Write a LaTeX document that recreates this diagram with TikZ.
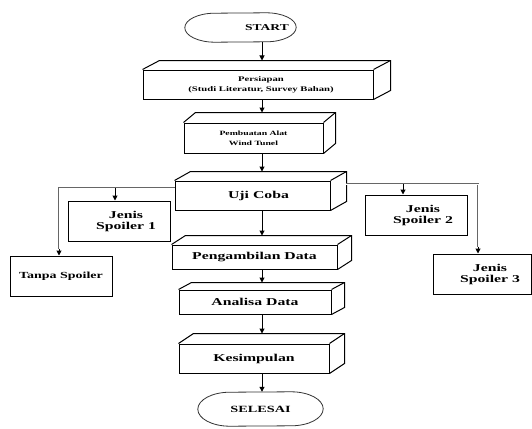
\documentclass[tikz,border=0pt]{standalone}
\usepackage{fontspec}
\newfontfamily\tf[FakeStretch=1.5]{Liberation Serif}
\usetikzlibrary{arrows.meta,calc}
\newcommand\myfs[2]{\fontsize{#1}{#2}\selectfont}
\newcommand\cubefaces[3]{%
  \draw[face] (#1.north west) -- ++(#2pt,#3pt) -- ($(#1.north east)+(#2pt,#3pt)$) -- ($(#1.south east)+(#2pt,#3pt)$) -- (#1.south east);
  \draw[face] (#1.north east) -- ++(#2pt,#3pt);}
\newcommand\termshape[3]{%
  \draw[term] ($(#1.north east)+(-#2pt,0pt)$) arc[start angle=90,end angle=-90,x radius=#2pt,y radius=#3pt]
    -- ($(#1.south west)+(#2pt,0pt)$) arc[start angle=270,end angle=90,x radius=#2pt,y radius=#3pt] -- cycle;}
\begin{document}
\begin{tikzpicture}[x=1pt,y=-1pt,
  box/.style={draw=black, line width=1pt, fill=white, inner sep=0pt, text=black, align=center},
  face/.style={draw=black, line width=1pt, line join=miter},
  term/.style={draw=black!80, line width=0.8pt},
  arr/.style={draw=black, line width=1pt, -{Triangle[length=5pt,width=5pt]}},
  branch/.style={draw=black!60, line width=0.7pt, double=white, double distance=0.8pt},
  mainf/.style={font=\tf\bfseries\myfs{10.5}{11}},
]
\fill[white] (0,0) rectangle (532,428);
\useasboundingbox (0,0) rectangle (532,428);
\coordinate (ax) at (262,0);

% START
\node[minimum width=111pt, minimum height=29pt, inner sep=0pt] (start) at (240.5,27.5) {};
\termshape{start}{30}{14.5}
\node[font=\tf\bfseries\myfs{9}{10}, text=black] (startlbl) at (267,27.5) {START};

% 3D boxes
\node[box, minimum width=230pt, minimum height=29pt, font=\tf\bfseries\myfs{7.1}{10}] (pers) at (258,84.5) {\hspace*{6pt}Persiapan\\\hspace*{6pt}(Studi Literatur, Survey Bahan)};
\cubefaces{pers}{17}{9}
\node[box, minimum width=139pt, minimum height=30pt, font=\tf\bfseries\myfs{6.5}{10}] (pemb) at (253.5,138) {Pembuatan Alat\\Wind Tunel};
\cubefaces{pemb}{12}{10}
\node[box, mainf, minimum width=155pt, minimum height=29pt] (uji) at (252.5,195.5) {\hspace*{12pt}Uji Coba};
\cubefaces{uji}{16}{9}
\node[box, mainf, minimum width=165pt, minimum height=24pt] (peng) at (254.5,257) {Pengambilan Data};
\cubefaces{peng}{14}{9}
\node[box, mainf, minimum width=152pt, minimum height=24pt] (anal) at (255,302) {Analisa Data};
\cubefaces{anal}{13}{7}
\node[box, mainf, minimum width=150pt, minimum height=29pt] (kes) at (254,358.5) {Kesimpulan};
\cubefaces{kes}{15}{10}

% side boxes
\node[box, mainf, minimum width=102pt, minimum height=40pt] (js1) at (119,221) {\hspace*{14pt}Jenis\\\hspace*{14pt}Spoiler 1};
\node[box, font=\tf\bfseries\myfs{9.3}{11}, minimum width=102pt, minimum height=40pt] (tanpa) at (61,276) {Tanpa Spoiler};
\node[box, mainf, minimum width=102pt, minimum height=40pt] (js2) at (416,215) {\hspace*{14pt}Jenis\\\hspace*{14pt}Spoiler 2};
\node[box, mainf, minimum width=98pt, minimum height=40pt] (js3) at (482,274) {\hspace*{16pt}Jenis\\\hspace*{16pt}Spoiler 3};

% SELESAI
\node[minimum width=125pt, minimum height=34pt, inner sep=0pt, font=\tf\bfseries\myfs{9.5}{10}, text=black] (sel) at (260.5,409) {SELESAI};
\termshape{sel}{32}{17}

% main arrows
\draw[arr] (start.south -| ax) -- ($(pers.north -| ax)+(0pt,9pt)$);
\draw[arr] (pers.south -| ax) -- ($(pemb.north -| ax)+(0pt,10pt)$);
\draw[arr] (pemb.south -| ax) -- ($(uji.north -| ax)+(0pt,9pt)$);
\draw[arr] (uji.south -| ax) -- ($(peng.north -| ax)+(0pt,9pt)$);
\draw[arr] (peng.south -| ax) -- ($(anal.north -| ax)+(0pt,7pt)$);
\draw[arr] (anal.south -| ax) -- ($(kes.north -| ax)+(0pt,10pt)$);
\draw[arr] (kes.south -| ax) -- (sel.north -| ax);

% left branch
\coordinate (lb) at (59,188);
\coordinate (k1) at (115,188);
\draw[branch] (uji.west |- lb) -- (lb) -- ($(lb |- tanpa.north)+(0pt,7pt)$);
\draw[arr] ($(lb |- tanpa.north)+(0pt,7pt)$) -- (lb |- tanpa.north);
\draw[arr] (k1) -- (k1 |- js1.north);

% right branch
\coordinate (ur) at (346,184);
\coordinate (rb) at (478,184);
\coordinate (k2) at (403,184);
\draw[branch] (ur) -- (rb) -- ($(rb |- js3.north)+(0pt,7pt)$);
\draw[arr] ($(rb |- js3.north)+(0pt,7pt)$) -- (rb |- js3.north);
\draw[arr] (k2) -- (k2 |- js2.north);
\end{tikzpicture}
\end{document}
